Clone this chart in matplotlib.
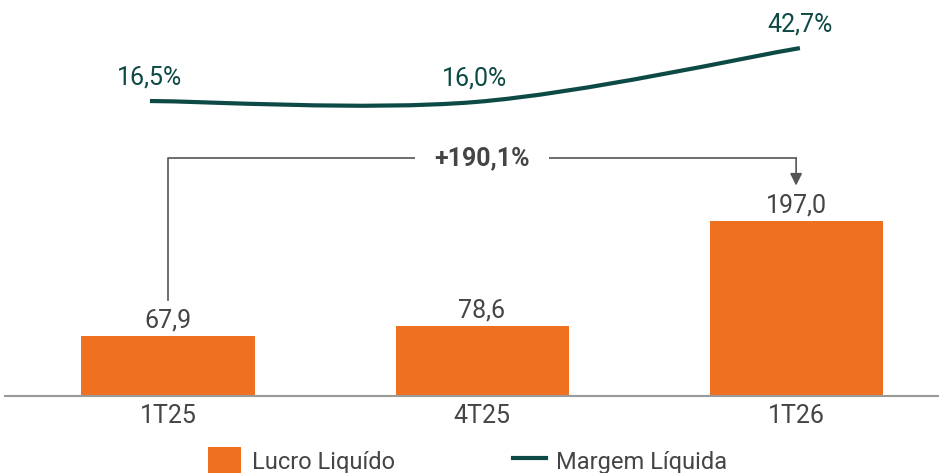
import matplotlib.pyplot as plt
from matplotlib.path import Path
from matplotlib.patches import PathPatch, Patch
from matplotlib.lines import Line2D
import numpy as np

plt.rcParams['font.family'] = ['Roboto', 'DejaVu Sans']

categories = ['1T25', '4T25', '1T26']
lucro = [67.9, 78.6, 197.0]
margem = [16.5, 16.0, 42.7]
margem_labels = ['16,5%', '16,0%', '42,7%']
lucro_labels = ['67,9', '78,6', '197,0']

orange = '#F07022'
teal = '#0E4A45'
gray_txt = '#454545'

W, H = 939, 473
fig = plt.figure(figsize=(W / 100, H / 100), dpi=100)
rect = [5 / W, 1 - 396 / H, 934 / W, 396 / H]

# bars
ax = fig.add_axes(rect)
x = np.arange(len(categories))
ax.bar(x, lucro, width=0.551, color=orange, zorder=2)
ax.set_xlim(-0.519, 2.455)
ax.set_ylim(0, 446)
for xi, v, lab in zip(x, lucro, lucro_labels):
    ax.annotate(lab, (xi, v), xytext=(0, 6), textcoords='offset points',
                ha='center', va='baseline', fontsize=18, color=gray_txt)
ax.set_xticks(x)
ax.set_xticklabels(categories, fontsize=18, color=gray_txt)
ax.tick_params(axis='x', length=0, pad=6)
ax.set_yticks([])
for s in ['top', 'left', 'right']:
    ax.spines[s].set_visible(False)
ax.spines['bottom'].set_color('#9a9a9a')
ax.spines['bottom'].set_linewidth(1.5)

# growth bracket
gap = 40
y_low = lucro[0] + gap
y_top = max(lucro) + 71
y_tip = lucro[-1] + gap
ax.plot([x[0], x[0], x[-1]], [y_low, y_top, y_top], color='#555555', lw=1.2, zorder=3)
ax.annotate('', xy=(x[-1], y_tip), xytext=(x[-1], y_top),
            arrowprops=dict(arrowstyle='-|>', color='#555555', lw=1.2,
                            mutation_scale=18, shrinkA=0, shrinkB=0))
growth = (lucro[-1] / lucro[0] - 1) * 100
ax.text(x[1], y_top, '+' + f'{growth:.1f}'.replace('.', ',') + '%',
        ha='center', va='center', fontsize=18, fontweight='bold', color=gray_txt,
        bbox=dict(boxstyle='square,pad=0.75', facecolor='white', edgecolor='none'), zorder=4)

# smoothed margin line
ax2 = fig.add_axes(rect)
ax2.set_xlim(-0.446, 2.428)
ax2.set_ylim(-129.5, 66.5)
ax2.axis('off')
pts = np.column_stack([x, margem]).astype(float)
ext = np.vstack([pts[0], pts, pts[-1]])
verts = [tuple(pts[0])]
codes = [Path.MOVETO]
for i in range(len(pts) - 1):
    p0, p1, p2, p3 = ext[i], ext[i + 1], ext[i + 2], ext[i + 3]
    c1 = p1 + (p2 - p0) / 6
    c2 = p2 - (p3 - p1) / 6
    verts += [tuple(c1), tuple(c2), tuple(p2)]
    codes += [Path.CURVE4] * 3
ax2.add_patch(PathPatch(Path(verts, codes), facecolor='none', edgecolor=teal,
                        lw=3, capstyle='butt'))
for xi, v, lab in zip(x, margem, margem_labels):
    ax2.annotate(lab, (xi, v), xytext=(0, 17), textcoords='offset points',
                 ha='center', va='center', fontsize=18, color=teal)

# legend
handles = [Patch(facecolor=orange, edgecolor='none'),
           Line2D([], [], color=teal, lw=3)]
fig.legend(handles, ['Lucro Liquído', 'Margem Líquida'], loc='upper left',
           bbox_to_anchor=(208 / W, 1 - 447 / H), ncol=2, frameon=False,
           fontsize=17, handlelength=1.4, handleheight=1.5, handletextpad=0.45,
           columnspacing=5.0, borderpad=0, borderaxespad=0, labelcolor=gray_txt)

fig.savefig('out.png', dpi=100)
